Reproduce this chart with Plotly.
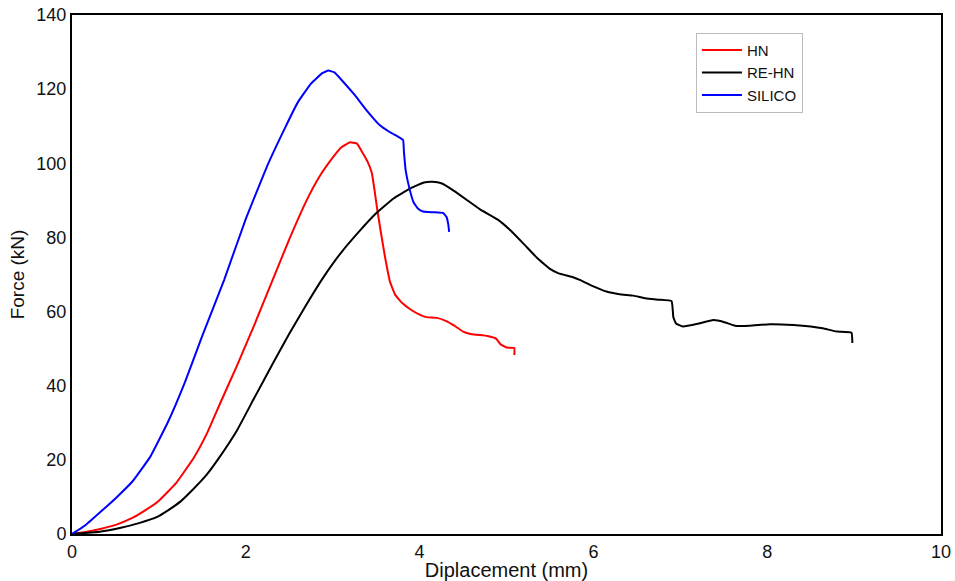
import plotly.graph_objects as go

# HN (red)
hn_x = [0, 0.17, 0.35, 0.52, 0.70, 0.85, 1.00, 1.20, 1.40, 1.55, 1.70, 1.90, 2.10, 2.30, 2.50, 2.70, 2.85, 3.00, 3.10, 3.20, 3.28, 3.34, 3.40, 3.45, 3.48, 3.51, 3.55, 3.60, 3.66, 3.72, 3.80, 3.90, 4.00, 4.08, 4.20, 4.30, 4.40, 4.50, 4.60, 4.78, 4.88, 4.93, 5.00, 5.09, 5.09]
hn_y = [0, 0.6, 1.5, 2.6, 4.4, 6.5, 9.0, 13.8, 20.5, 27.0, 35.0, 45.5, 56.5, 68.0, 79.5, 90.0, 96.5, 101.5, 104.3, 105.7, 105.3, 103.0, 100.5, 97.4, 93.0, 88.0, 82.0, 75.0, 68.0, 64.5, 62.3, 60.5, 59.2, 58.5, 58.3, 57.5, 56.2, 54.6, 53.9, 53.4, 52.7, 51.2, 50.3, 50.2, 48.3]

# RE-HN (black)
rehn_x = [0, 0.32, 0.55, 0.78, 0.98, 1.10, 1.25, 1.40, 1.55, 1.70, 1.90, 2.10, 2.30, 2.50, 2.70, 2.90, 3.10, 3.30, 3.50, 3.70, 3.90, 4.05, 4.15, 4.25, 4.40, 4.55, 4.70, 4.90, 5.05, 5.20, 5.35, 5.50, 5.60, 5.75, 5.85, 6.00, 6.15, 6.30, 6.46, 6.60, 6.75, 6.90, 6.92, 6.95, 7.03, 7.20, 7.38, 7.50, 7.63, 7.80, 8.03, 8.30, 8.50, 8.64, 8.80, 8.97, 8.98]
rehn_y = [0, 0.6, 1.6, 3.0, 4.6, 6.3, 8.8, 12.2, 16.0, 20.8, 28.0, 36.8, 45.5, 54.0, 62.0, 69.5, 76.0, 81.5, 86.5, 90.5, 93.3, 94.8, 95.0, 94.6, 92.5, 90.0, 87.5, 84.8, 81.8, 78.2, 74.5, 71.5, 70.3, 69.4, 68.5, 66.8, 65.4, 64.7, 64.3, 63.6, 63.2, 62.8, 58.5, 56.8, 56.0, 56.7, 57.7, 57.2, 56.2, 56.2, 56.6, 56.4, 56.0, 55.5, 54.6, 54.3, 51.5]

# SILICO (blue)
si_x = [0, 0.15, 0.32, 0.50, 0.70, 0.90, 1.10, 1.30, 1.50, 1.75, 2.00, 2.25, 2.45, 2.60, 2.75, 2.88, 2.95, 3.02, 3.12, 3.25, 3.40, 3.54, 3.65, 3.75, 3.81, 3.82, 3.84, 3.88, 3.93, 3.98, 4.04, 4.15, 4.27, 4.31, 4.33, 4.34]
si_y = [0, 2.3, 5.8, 9.6, 14.3, 20.8, 30.0, 41.0, 53.5, 68.5, 85.0, 99.5, 109.5, 116.5, 121.5, 124.3, 125.0, 124.5, 122.0, 118.5, 114.0, 110.3, 108.5, 107.2, 106.3, 103.0, 98.0, 93.5, 89.5, 87.8, 87.0, 86.8, 86.6, 85.5, 83.5, 81.5]

x_ticks = [0, 2, 4, 6, 8, 10]
y_ticks = [0, 20, 40, 60, 80, 100, 120, 140]

FONT = "Liberation Sans, Arial, sans-serif"

fig = go.Figure()
fig.add_trace(go.Scatter(x=hn_x, y=hn_y, mode="lines", name="HN",
                         line=dict(color="#ff0000", width=2, shape="spline", smoothing=0.3)))
fig.add_trace(go.Scatter(x=rehn_x, y=rehn_y, mode="lines", name="RE-HN",
                         line=dict(color="#000000", width=2, shape="spline", smoothing=0.3)))
fig.add_trace(go.Scatter(x=si_x, y=si_y, mode="lines", name="SILICO",
                         line=dict(color="#0000ff", width=2, shape="spline", smoothing=0.3)))

fig.update_layout(
    width=955, height=581,
    margin=dict(l=72, r=14, t=15, b=47),
    paper_bgcolor="white", plot_bgcolor="white",
    font=dict(family=FONT, size=18, color="#111111"),
    showlegend=True,
    legend=dict(x=0.718, y=0.966, xanchor="left", yanchor="top",
                bordercolor="#bbbbbb", borderwidth=1, bgcolor="white",
                font=dict(family=FONT, size=15, color="#111111"),
                tracegroupgap=0, itemwidth=40, entrywidth=90),
)
fig.update_xaxes(range=[0, 10], tickvals=x_ticks, showgrid=False, zeroline=False,
                 showline=True, linecolor="black", linewidth=2, mirror=True,
                 ticks="", ticklabelstandoff=0, automargin=False,
                 title=dict(text="Diplacement (mm)", font=dict(family=FONT, size=20), standoff=2))
fig.update_yaxes(range=[0, 140], tickvals=y_ticks, showgrid=False, zeroline=False,
                 showline=True, linecolor="black", linewidth=2, mirror=True,
                 ticks="", ticklabelstandoff=0, automargin=False,
                 title=dict(text="Force (kN)", font=dict(family=FONT, size=19), standoff=7))

fig.write_html("out.html")
